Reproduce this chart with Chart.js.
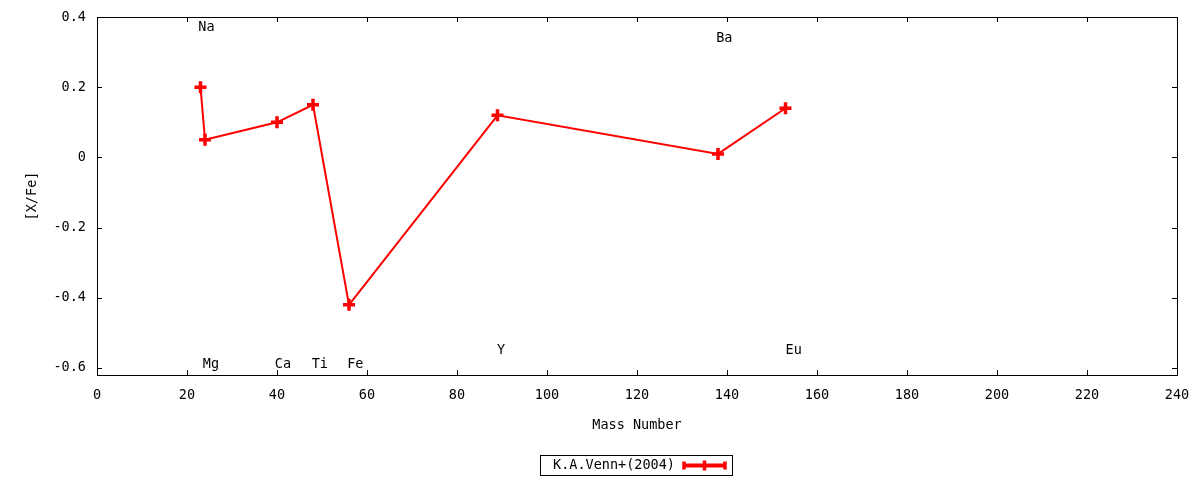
<!DOCTYPE html>
<html>
  <head>
    <title>[X/Fe] vs Mass Number</title>
    <script src="https://cdn.jsdelivr.net/npm/chart.js"></script>
    <style>
      html, body { margin: 0; padding: 0; background: #fff; }
      canvas { display: block; }
    </style>
  </head>
  <body>
    <canvas id="abundChart" width="1200" height="480"></canvas>

    <script>
      // data
      const massNumbers = [23, 24, 40, 48, 56, 89, 138, 153];
      const xFe = [0.2, 0.05, 0.1, 0.15, -0.42, 0.12, 0.01, 0.14];
      const seriesLabel = "K.A.Venn+(2004)";

      // element labels (text annotations, data coordinates)
      const elemNames = ["Na", "Mg", "Ca", "Ti", "Fe", "Y", "Ba", "Eu"];
      const elemX = [22.5, 23.5, 39.5, 47.7, 55.6, 88.9, 137.6, 153];
      const elemY = [0.37, -0.59, -0.59, -0.59, -0.59, -0.55, 0.34, -0.55];

      const xTicks = [0, 20, 40, 60, 80, 100, 120, 140, 160, 180, 200, 220, 240];
      const yTicks = [-0.6, -0.4, -0.2, 0, 0.2, 0.4];

      const FONT = "'DejaVu Sans Mono', 'Liberation Mono', monospace";
      const FSIZE = 13.5;
      const RED = "#ff0000";
      const NONE = "rgba(0,0,0,0)";

      const gnuplotFrame = {
        id: "gnuplotFrame",
        afterDraw(chart) {
          const { ctx, chartArea: a, scales } = chart;
          const x = scales.x, y = scales.y;
          ctx.save();
          ctx.strokeStyle = "#000";
          ctx.lineWidth = 1;
          ctx.strokeRect(a.left + 0.5, a.top + 0.5, a.right - a.left, a.bottom - a.top);

          // inward ticks on all four sides
          const tl = 5;
          ctx.beginPath();
          xTicks.forEach((v) => {
            const px = Math.round(x.getPixelForValue(v)) + 0.5;
            ctx.moveTo(px, a.bottom);
            ctx.lineTo(px, a.bottom - tl);
            ctx.moveTo(px, a.top);
            ctx.lineTo(px, a.top + tl);
          });
          yTicks.forEach((v) => {
            const py = Math.round(y.getPixelForValue(v)) + 0.5;
            ctx.moveTo(a.left, py);
            ctx.lineTo(a.left + tl, py);
            ctx.moveTo(a.right, py);
            ctx.lineTo(a.right - tl, py);
          });
          ctx.stroke();

          // element labels
          ctx.fillStyle = "#000";
          ctx.font = FSIZE + "px " + FONT;
          ctx.textAlign = "left";
          ctx.textBaseline = "middle";
          elemNames.forEach((n, i) => {
            ctx.fillText(n, x.getPixelForValue(elemX[i]), y.getPixelForValue(elemY[i]));
          });

          // axis titles
          ctx.textAlign = "center";
          ctx.fillText("Mass Number", (a.left + a.right) / 2, 425);
          ctx.save();
          ctx.translate(32, (a.top + a.bottom) / 2);
          ctx.rotate(-Math.PI / 2);
          ctx.fillText("[X/Fe]", 0, 0);
          ctx.restore();

          // key box
          const ds = chart.data.datasets[0];
          const bx = 540.5, by = 455.5, bw = 192, bh = 20;
          ctx.strokeRect(bx, by, bw, bh);
          ctx.textAlign = "right";
          ctx.fillText(ds.label, 675, by + bh / 2);
          const ly = by + bh / 2;
          ctx.strokeStyle = ds.borderColor;
          ctx.lineWidth = 4;
          ctx.beginPath();
          ctx.moveTo(684, ly);
          ctx.lineTo(725, ly);
          ctx.stroke();
          ctx.lineWidth = 3.5;
          ctx.beginPath();
          ctx.moveTo(684, ly - 4);
          ctx.lineTo(684, ly + 4);
          ctx.moveTo(725, ly - 4);
          ctx.lineTo(725, ly + 4);
          ctx.moveTo(704.5, ly - 5);
          ctx.lineTo(704.5, ly + 5);
          ctx.stroke();
          ctx.restore();
        },
      };

      const ctx = document.getElementById("abundChart").getContext("2d");
      new Chart(ctx, {
        type: "line",
        data: {
          datasets: [
            {
              label: seriesLabel,
              data: massNumbers.map((m, i) => ({ x: m, y: xFe[i] })),
              borderColor: RED,
              backgroundColor: RED,
              borderWidth: 2,
              pointStyle: "cross",
              pointRadius: 6,
              pointBorderWidth: 3.5,
              pointHoverRadius: 6,
              tension: 0,
            },
          ],
        },
        options: {
          responsive: false,
          animation: false,
          devicePixelRatio: 1,
          layout: { padding: { top: 17, right: 23, left: 0, bottom: 0 } },
          plugins: {
            legend: { display: false },
            tooltip: { enabled: false },
          },
          scales: {
            x: {
              type: "linear",
              min: 0,
              max: 240,
              // invisible grid ticks only used to offset the labels
              grid: { color: NONE, drawOnChartArea: false, drawTicks: true, tickLength: 12 },
              border: { display: false },
              afterBuildTicks: (s) => { s.ticks = xTicks.map((v) => ({ value: v })); },
              afterFit: (s) => { s.height = 105; },
              ticks: {
                padding: 0,
                maxRotation: 0,
                color: "#000",
                font: { family: FONT, size: FSIZE },
                callback: (v) => String(v),
              },
            },
            y: {
              type: "linear",
              min: -0.62,
              max: 0.4,
              grid: { color: NONE, drawOnChartArea: false, drawTicks: true, tickLength: 11 },
              border: { display: false },
              afterBuildTicks: (s) => { s.ticks = yTicks.map((v) => ({ value: v })); },
              afterFit: (s) => { s.width = 97; },
              ticks: {
                padding: 0,
                color: "#000",
                font: { family: FONT, size: FSIZE },
                callback: (v) => String(Math.round(v * 10) / 10),
              },
            },
          },
        },
        plugins: [gnuplotFrame],
      });
    </script>
  </body>
</html>
